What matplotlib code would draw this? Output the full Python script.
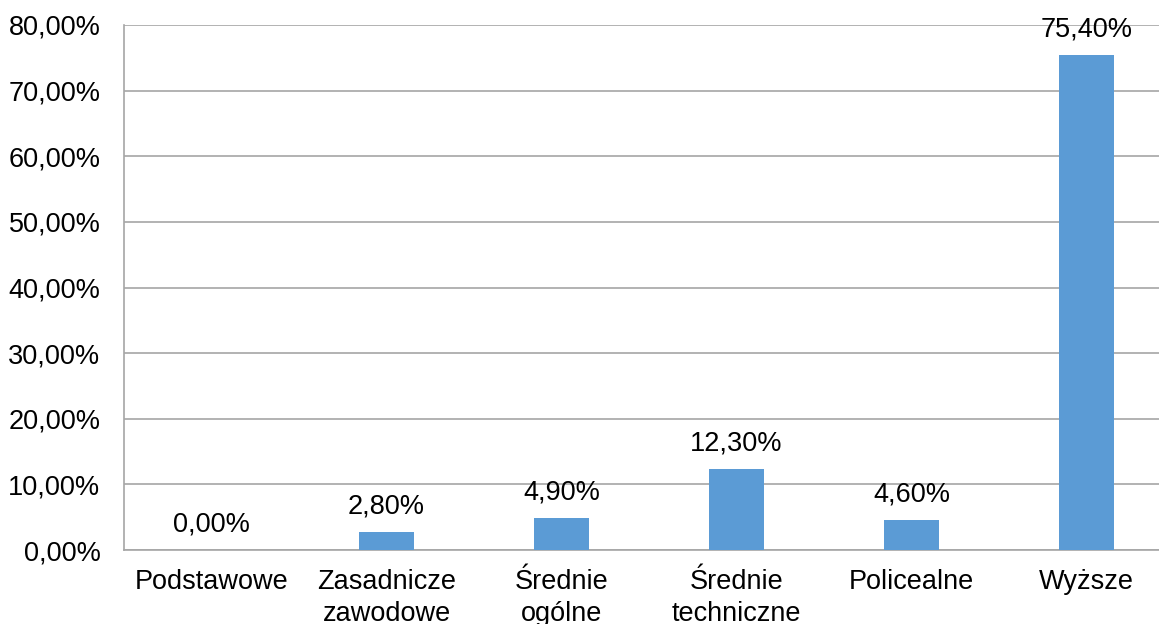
import matplotlib
matplotlib.use("Agg")
import matplotlib.pyplot as plt
from matplotlib.ticker import FuncFormatter

categories = ["Podstawowe", "Zasadnicze\nzawodowe", "Średnie\nogólne",
              "Średnie\ntechniczne", "Policealne", "Wyższe"]
values = [0.0, 2.8, 4.9, 12.3, 4.6, 75.4]
y_ticks = [0, 10, 20, 30, 40, 50, 60, 70, 80]

plt.rcParams['font.family'] = ['Liberation Sans', 'DejaVu Sans']
FS = 19.5

W, H = 1159, 624
fig = plt.figure(figsize=(W / 100, H / 100), dpi=100)
left, right, top, bottom = 124, 1174, 25, 550
ax = fig.add_axes([left / W, 1 - bottom / H, (right - left) / W, (bottom - top) / H])

x = list(range(len(categories)))
ax.bar(x, values, width=0.314, color="#5B9BD5", zorder=3)

for xi, v in zip(x, values):
    label = f"{v:.2f}%".replace(".", ",")
    ax.annotate(label, (xi, v), xytext=(0, 9), textcoords="offset points",
                ha="center", va="bottom", fontsize=FS, color="black")

ax.set_xlim(-0.5, len(categories) - 0.5)
ax.set_ylim(0, 80)
ax.set_yticks(y_ticks)
ax.yaxis.set_major_formatter(FuncFormatter(lambda v, p: f"{v:.2f}%".replace(".", ",")))
ax.set_xticks(x)
ax.set_xticklabels(categories, fontsize=FS, linespacing=1.3)
ax.tick_params(axis="y", labelsize=FS, length=0, pad=17)
ax.tick_params(axis="x", length=0, pad=14)

ax.grid(axis="y", color="#A6A6A6", linewidth=1.2, zorder=0)
for s in ["top", "right"]:
    ax.spines[s].set_visible(False)
for s in ["left", "bottom"]:
    ax.spines[s].set_color("#A6A6A6")
    ax.spines[s].set_linewidth(1.2)

fig.savefig("out.png", dpi=100)
